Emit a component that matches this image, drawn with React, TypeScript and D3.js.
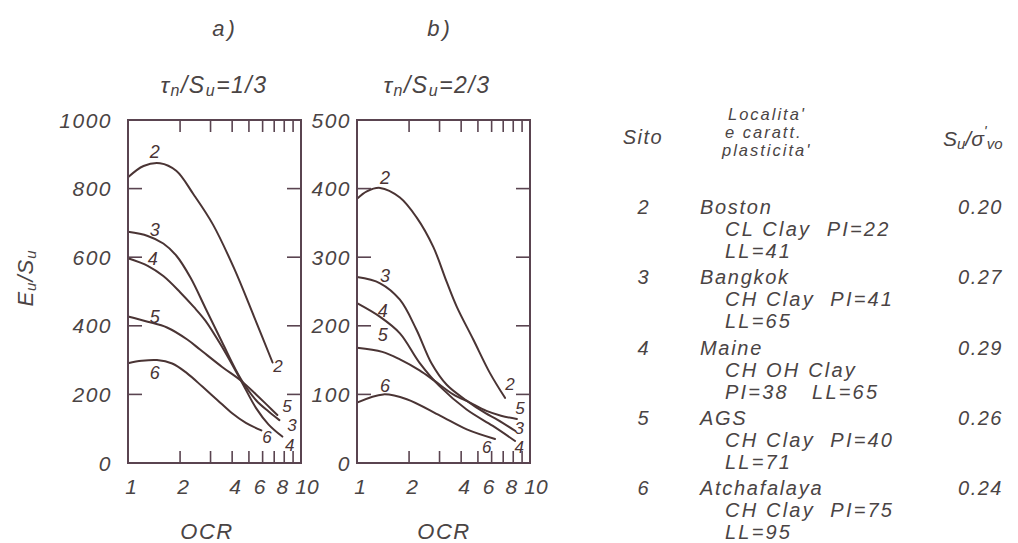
import React from 'react';
import * as d3 from 'd3';

type Pt = [number, number];

// ---------- data ----------
const ocrTickLabels = [1, 2, 4, 6, 8, 10];
const ocrMinorTicks = [2, 3, 4, 5, 6, 7, 8, 9];
const yTicksA = [0, 200, 400, 600, 800, 1000];
const yTicksB = [0, 100, 200, 300, 400, 500];
const siteIds = ['2', '3', '4', '5', '6'];

// panel a) tau/Su = 1/3 : (OCR, Eu/Su)
const a2: Pt[] = [[1, 833], [1.23, 866], [1.53, 874], [1.9, 852], [2.4, 782], [3.1, 695], [4.1, 568], [5.35, 427], [6.85, 293]];
const a3: Pt[] = [[1, 674], [1.3, 662], [1.6, 640], [1.9, 605], [2.3, 540], [2.8, 452], [3.5, 352], [4.5, 244], [5.5, 183], [6.5, 150], [7.5, 125]];
const a4: Pt[] = [[1, 597], [1.3, 575], [1.6, 545], [2.0, 498], [2.4, 455], [2.8, 415], [3.5, 338], [4.5, 240], [5.5, 160], [6.5, 112], [7.8, 77]];
const a5: Pt[] = [[1, 427], [1.3, 412], [1.68, 395], [2.2, 360], [2.62, 330], [3.5, 280], [4.5, 240], [5.5, 200], [6.4, 168], [7.3, 140]];
const a6: Pt[] = [[1, 291], [1.2, 298], [1.47, 300], [1.8, 290], [2.19, 262], [2.7, 222], [3.28, 184], [4.0, 145], [4.8, 117], [5.9, 95]];

// panel b) tau/Su = 2/3 : (OCR, Eu/Su)
const b2: Pt[] = [[1, 385], [1.14, 396], [1.36, 401], [1.77, 387], [2.21, 358], [2.76, 315], [3.3, 264], [3.77, 228], [4.7, 180], [5.87, 131], [7.17, 95]];
const b3: Pt[] = [[1, 271], [1.36, 262], [1.77, 238], [2.2, 195], [2.7, 145], [3.3, 114], [4.3, 91], [5.5, 73], [6.5, 63], [8.2, 47]];
const b4: Pt[] = [[1, 233], [1.36, 213], [1.77, 189], [2.3, 146], [3.0, 112], [4.3, 78], [6.1, 54], [8.2, 32]];
const b5: Pt[] = [[1, 168], [1.4, 162], [1.77, 151], [2.3, 135], [2.8, 120], [3.6, 100], [4.5, 88], [5.6, 76], [6.8, 69], [8.4, 64]];
const b6: Pt[] = [[1, 88], [1.42, 100], [1.94, 93], [3.02, 69], [4.31, 49], [6.28, 35]];

// curve labels, in data units (OCR, Eu/Su)
const startLabelsA: Pt[] = [[1.43, 907], [1.43, 679], [1.39, 595], [1.43, 426], [1.43, 262]];
const endLabelsA: Pt[] = [[7.36, 280], [8.87, 108], [8.6, 50], [8.29, 166], [6.36, 73]];
const startLabelsB: Pt[] = [[1.45, 416], [1.45, 272], [1.41, 221], [1.41, 187], [1.45, 112]];
const endLabelsB: Pt[] = [[7.67, 114], [8.67, 51], [8.67, 22], [8.76, 80], [5.62, 23]];

// table
const siteNames = ['Boston', 'Bangkok', 'Maine', 'AGS', 'Atchafalaya'];
const siteLine2 = ['CL Clay  PI=22', 'CH Clay  PI=41', 'CH OH Clay', 'CH Clay  PI=40', 'CH Clay  PI=75'];
const siteLine3 = ['LL=41', 'LL=65', 'PI=38   LL=65', 'LL=71', 'LL=95'];
const suRatios = ['0.20', '0.27', '0.29', '0.26', '0.24'];
const headerLoc = ["Localita'", 'e caratt.', "plasticita'"];

// ---------- style ----------
const FONT = '"Liberation Sans", Arial, Helvetica, sans-serif';
const TEXT = '#4a4444';
const FRAME = '#5a4450';
const CURVE = '#4a3434';
const tickNudge = (t: number) => (t === 10 ? 6 : t === 8 ? -2 : t === 6 ? -3 : 3);

type PanelProps = {
  left: number; right: number; top: number; bottom: number;
  yMax: number; yTicks: number[];
  curves: Pt[][]; startLabels: Pt[]; endLabels: Pt[];
  labelRightGap: number;
};

function Panel(p: PanelProps) {
  const x = d3.scaleLog().domain([1, 10]).range([p.left, p.right]);
  const y = d3.scaleLinear().domain([0, p.yMax]).range([p.bottom, p.top]);
  const line = d3.line<Pt>().x(d => x(d[0])).y(d => y(d[1])).curve(d3.curveCatmullRom.alpha(0.5));
  const tl = 12;
  return (
    <g>
      {p.curves.map((c, i) => (
        <path key={'c' + i} d={line(c) || ''} fill="none" stroke={CURVE} strokeWidth={2} strokeLinecap="round" />
      ))}
      <rect x={p.left} y={p.top} width={p.right - p.left} height={p.bottom - p.top} fill="none" stroke={FRAME} strokeWidth={2} />
      {ocrMinorTicks.map(t => (
        <g key={'xt' + t}>
          <line x1={x(t)} x2={x(t)} y1={p.top} y2={p.top + tl} stroke={FRAME} strokeWidth={1.6} />
          <line x1={x(t)} x2={x(t)} y1={p.bottom} y2={p.bottom - tl} stroke={FRAME} strokeWidth={1.6} />
        </g>
      ))}
      {p.yTicks.slice(1, -1).map(t => (
        <g key={'yt' + t}>
          <line x1={p.left} x2={p.left + 14} y1={y(t)} y2={y(t)} stroke={FRAME} strokeWidth={1.6} />
          <line x1={p.right} x2={p.right - 14} y1={y(t)} y2={y(t)} stroke={FRAME} strokeWidth={1.6} />
        </g>
      ))}
      {p.yTicks.map(t => (
        <text key={'yl' + t} x={p.left - p.labelRightGap} y={y(t)} textAnchor="end" dominantBaseline="central"
          fontSize={21} fontStyle="italic" letterSpacing={1.5} fill={TEXT} fontFamily={FONT}>{t}</text>
      ))}
      {ocrTickLabels.map(t => (
        <text key={'xl' + t} x={x(t) + tickNudge(t)} y={486} textAnchor="middle" dominantBaseline="central"
          fontSize={21} fontStyle="italic" fill={TEXT} fontFamily={FONT}>{t}</text>
      ))}
      {p.startLabels.map((l, i) => (
        <text key={'sl' + i} x={x(l[0])} y={y(l[1])} textAnchor="middle" dominantBaseline="central"
          fontSize={18} fontStyle="italic" fill={CURVE} fontFamily={FONT}>{siteIds[i]}</text>
      ))}
      {p.endLabels.map((l, i) => (
        <text key={'el' + i} x={x(l[0])} y={y(l[1])} textAnchor="middle" dominantBaseline="central"
          fontSize={17} fontStyle="italic" fill={CURVE} fontFamily={FONT}>{siteIds[i]}</text>
      ))}
    </g>
  );
}

export default function App() {
  const tStyle = { fontFamily: FONT, fontStyle: 'italic' as const, fill: TEXT, whiteSpace: 'pre' as const };
  return (
    <svg width={1018} height={543} style={{ position: 'absolute', left: 0, top: 0, background: '#fff' }}>
      <rect x={0} y={0} width={1018} height={543} fill="#fff" />
      {/* titles */}
      <text x={225} y={28} textAnchor="middle" dominantBaseline="central" fontSize={22} letterSpacing={3} style={tStyle}>a)</text>
      <text x={440} y={28} textAnchor="middle" dominantBaseline="central" fontSize={22} letterSpacing={3} style={tStyle}>b)</text>
      <text x={214} y={85} textAnchor="middle" dominantBaseline="central" fontSize={23} letterSpacing={1.5} style={tStyle}>
        τ<tspan fontSize={16} dy={5}>n</tspan><tspan dy={-5}>/S</tspan><tspan fontSize={16} dy={5}>u</tspan><tspan dy={-5}>=1/3</tspan>
      </text>
      <text x={437} y={85} textAnchor="middle" dominantBaseline="central" fontSize={23} letterSpacing={1.5} style={tStyle}>
        τ<tspan fontSize={16} dy={5}>n</tspan><tspan dy={-5}>/S</tspan><tspan fontSize={16} dy={5}>u</tspan><tspan dy={-5}>=2/3</tspan>
      </text>
      {/* y label */}
      <text transform="translate(25,278) rotate(-90)" textAnchor="middle" dominantBaseline="central" fontSize={22} letterSpacing={1} style={tStyle}>
        E<tspan fontSize={15} dy={5}>u</tspan><tspan dy={-5}>/S</tspan><tspan fontSize={15} dy={5}>u</tspan>
      </text>
      <Panel left={128} right={301} top={120} bottom={463} yMax={1000} yTicks={yTicksA}
        curves={[a2, a3, a4, a5, a6]} startLabels={startLabelsA} endLabels={endLabelsA} labelRightGap={16} />
      <Panel left={357} right={530} top={120} bottom={463} yMax={500} yTicks={yTicksB}
        curves={[b2, b3, b4, b5, b6]} startLabels={startLabelsB} endLabels={endLabelsB} labelRightGap={6} />
      <text x={207} y={531} textAnchor="middle" dominantBaseline="central" fontSize={22} letterSpacing={1.5} style={tStyle}>OCR</text>
      <text x={444} y={531} textAnchor="middle" dominantBaseline="central" fontSize={22} letterSpacing={1.5} style={tStyle}>OCR</text>

      {/* table header */}
      <text x={643} y={137} textAnchor="middle" dominantBaseline="central" fontSize={20} letterSpacing={1.5} style={tStyle}>Sito</text>
      {headerLoc.map((h, i) => (
        <text key={'h' + i} x={728 - i * 3} y={114 + i * 18} dominantBaseline="central" fontSize={16.5} letterSpacing={2} style={tStyle}>{h}</text>
      ))}
      <text x={943} y={138} dominantBaseline="central" fontSize={21} style={tStyle}>
        S<tspan fontSize={15} dy={5}>u</tspan><tspan dy={-5}>/σ</tspan><tspan fontSize={15} dy={-8}>'</tspan><tspan fontSize={15} dy={13}>vo</tspan>
      </text>
      {siteIds.map((s, i) => {
        const y0 = 207 + i * 70.3;
        return (
          <g key={'row' + s}>
            <text x={643} y={y0} textAnchor="middle" dominantBaseline="central" fontSize={20} style={tStyle}>{s}</text>
            <text x={700} y={y0} dominantBaseline="central" fontSize={20} letterSpacing={1.7} style={tStyle}>{siteNames[i]}</text>
            <text x={725} y={y0 + 22} dominantBaseline="central" fontSize={20} letterSpacing={2.2} style={tStyle}>{siteLine2[i]}</text>
            <text x={725} y={y0 + 44} dominantBaseline="central" fontSize={20} letterSpacing={2.2} style={tStyle}>{siteLine3[i]}</text>
            <text x={1003} y={y0} textAnchor="end" dominantBaseline="central" fontSize={20} letterSpacing={1.5} style={tStyle}>{suRatios[i]}</text>
          </g>
        );
      })}
    </svg>
  );
}
